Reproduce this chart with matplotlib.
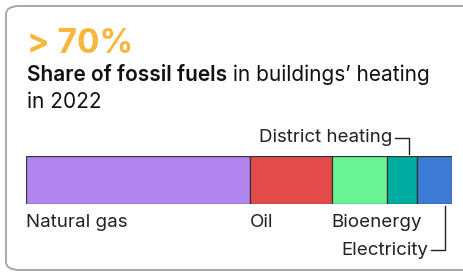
import matplotlib
matplotlib.use("Agg")
import matplotlib.pyplot as plt
from matplotlib.patches import FancyBboxPatch
import matplotlib.transforms as mtransforms

categories = ["Natural gas", "Oil", "Bioenergy", "District heating", "Electricity"]
shares = [52.6, 19.2, 12.9, 7.0, 8.3]
colors = ["#B085EE", "#E34A4A", "#69F394", "#00AB9F", "#3D7AD4"]
headline = "> 70%"
title_bold = "Share of fossil fuels"
title_rest = " in buildings\u2019 heating"
title_line2 = "in 2022"

FONT = "Inter"
W, H = 464, 273
fig = plt.figure(figsize=(W / 100, H / 100), dpi=100)
fig.patch.set_facecolor("white")

def px(x, y):
    return x / W, 1 - y / H

# card
card = FancyBboxPatch(px(6, 270), (480 - 6) / W, (270 - 6) / H,
                      boxstyle="round,pad=0,rounding_size=0.03",
                      transform=fig.transFigure, facecolor="white",
                      edgecolor="#A8A8A8", linewidth=1.4, zorder=-5)
fig.patches.append(card)

fig.text(*px(27, 53), headline, fontsize=24, fontweight="bold",
         color="#F7B73E", family=FONT, va="baseline", ha="left")
tb = fig.text(*px(27, 81), title_bold, fontsize=15, fontweight="semibold",
              color="#111111", family=FONT, va="baseline", ha="left")
fig.canvas.draw()
ext = tb.get_window_extent()
fig.text(ext.x1 / W, 1 - 81 / H, title_rest, fontsize=15, color="#111111",
         family=FONT, va="baseline", ha="left")
fig.text(*px(27, 108), title_line2, fontsize=15, color="#111111",
         family=FONT, va="baseline", ha="left")

# bar
x0, x1, yt, yb = 26, 452, 156, 204
ax = fig.add_axes([x0 / W, 1 - yb / H, (x1 - x0) / W, (yb - yt) / H])
ax.set_zorder(1)
left = 0
lefts = []
for v, c in zip(shares, colors):
    ax.barh(0, v, left=left, height=1, color=c, edgecolor="#333333",
            linewidth=0.9)
    lefts.append(left)
    left += v
total = sum(shares)
ax.set_xlim(0, total)
ax.set_ylim(-0.5, 0.5)
ax.axis("off")

tr = mtransforms.blended_transform_factory(ax.transData, fig.transFigure)
lab_kw = dict(fontsize=13.5, color="#222222", family=FONT, va="baseline",
              transform=tr)
for i in range(3):
    ax.text(lefts[i], 1 - 227 / H, categories[i], ha="left", **lab_kw)

d2px = (x1 - x0) / total
# district heating leader
dh_x = lefts[3] + shares[3] * 0.75
ax.plot([dh_x - 14 / d2px, dh_x, dh_x], [1 - 138 / H, 1 - 138 / H, 1 - 154 / H],
        color="#222222", lw=1, transform=tr, clip_on=False)
ax.text(dh_x - 17 / d2px, 1 - 142 / H, categories[3], ha="right", **lab_kw)

# electricity leader
el_x = lefts[4] + shares[4] * 0.8
ax.plot([el_x, el_x, el_x - 14 / d2px], [1 - 206 / H, 1 - 250 / H, 1 - 250 / H],
        color="#222222", lw=1, transform=tr, clip_on=False)
ax.text(el_x - 17 / d2px, 1 - 255 / H, categories[4], ha="right", **lab_kw)

fig.savefig("out.png", dpi=100, facecolor="white")
